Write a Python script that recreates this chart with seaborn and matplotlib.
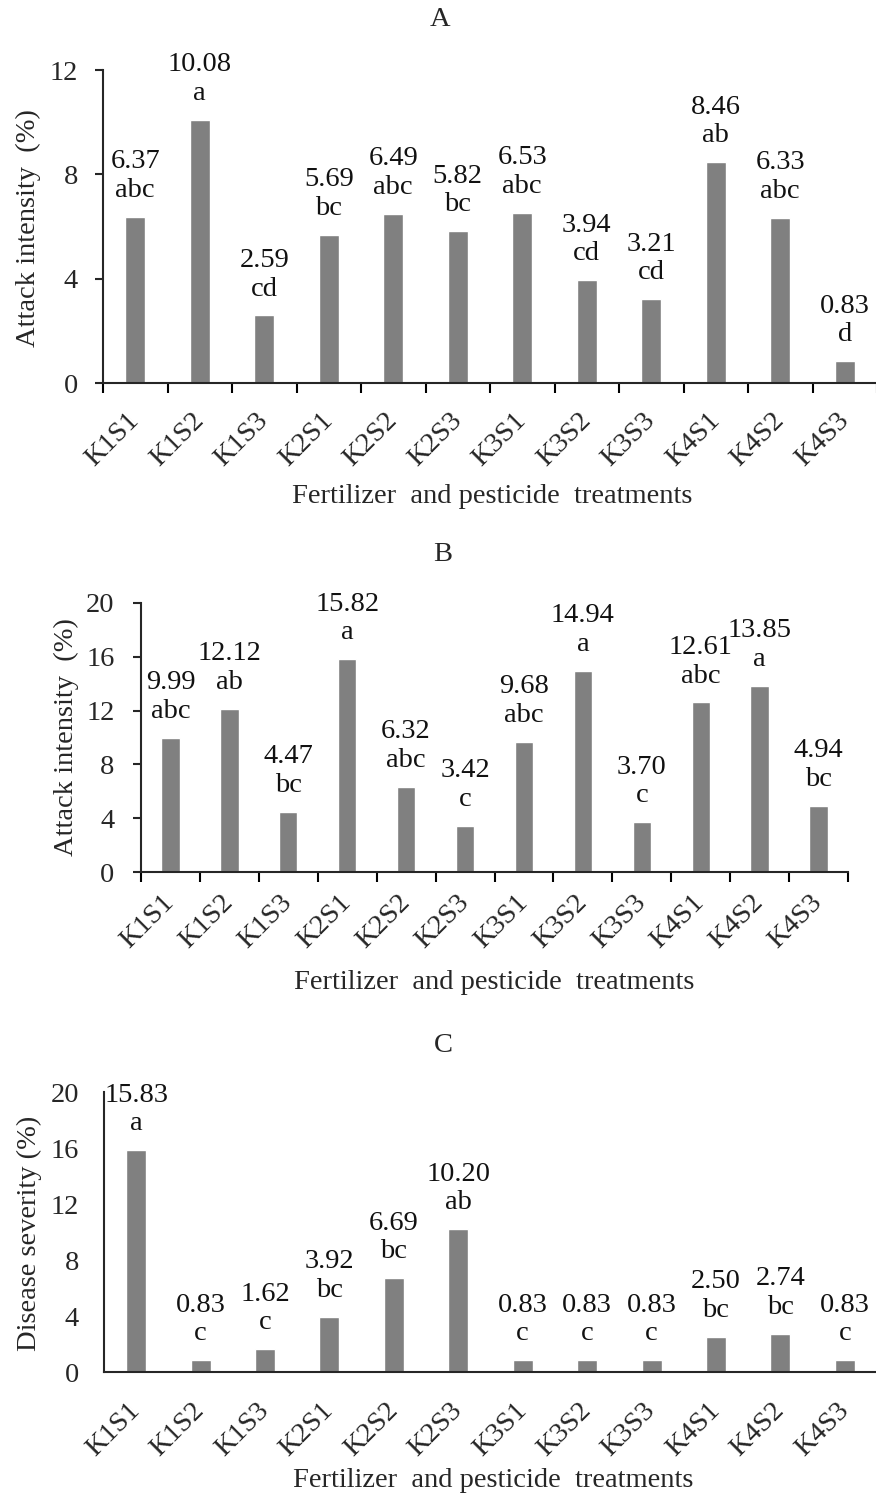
import numpy as np
import pandas as pd
import matplotlib
matplotlib.use("Agg")
import matplotlib.pyplot as plt
import seaborn as sns

# Treatments (same for all three panels)
treatments = ["K1S1", "K1S2", "K1S3", "K2S1", "K2S2", "K2S3",
              "K3S1", "K3S2", "K3S3", "K4S1", "K4S2", "K4S3"]

# Panel A - attack intensity
attack_a = [6.37, 10.08, 2.59, 5.69, 6.49, 5.82, 6.53, 3.94, 3.21, 8.46, 6.33, 0.83]
letters_a = ["abc", "a", "cd", "bc", "abc", "bc", "abc", "cd", "cd", "ab", "abc", "d"]

# Panel B - attack intensity
attack_b = [9.99, 12.12, 4.47, 15.82, 6.32, 3.42, 9.68, 14.94, 3.70, 12.61, 13.85, 4.94]
letters_b = ["abc", "ab", "bc", "a", "abc", "c", "abc", "a", "c", "abc", "a", "bc"]

# Panel C - disease severity
severity_c = [15.83, 0.83, 1.62, 3.92, 6.69, 10.20, 0.83, 0.83, 0.83, 2.50, 2.74, 0.83]
letters_c = ["a", "c", "c", "bc", "bc", "ab", "c", "c", "c", "bc", "bc", "c"]

sns.set_style("ticks")
plt.rcParams['font.family'] = ['Liberation Serif', 'DejaVu Serif']
plt.rcParams['axes.linewidth'] = 1.5

FS = 20.5
W, H = 876, 1494
fig = plt.figure(figsize=(W / 100, H / 100), dpi=100)


def px_axes(left, top, right, bottom):
    return fig.add_axes([left / W, 1 - bottom / H, (right - left) / W, (bottom - top) / H])


def panel(ax, values, letters, ymax, ylabel, ticks=True, ylab_xy=(-0.1, 0.5),
          xlab_xy=(0.5, -0.37), xpad=24, ypad=13, title=None, title_xy=None):
    df = pd.DataFrame({"treatment": treatments, "value": values})
    sns.barplot(data=df, x="treatment", y="value", color="#808080",
                saturation=1, width=0.31, ax=ax)
    ax.set_xlim(-0.5, len(treatments) - 0.5)
    ax.set_ylim(0, ymax)
    ax.set_yticks(np.arange(0, ymax + 1, 4))
    sns.despine(ax=ax)
    labels = [f"{v:.2f}\n{l}" for v, l in zip(values, letters)]
    ax.bar_label(ax.containers[0], labels=labels, padding=10, fontsize=FS,
                 linespacing=1.2, color="#111111")
    ax.tick_params(axis="x", which="major", length=0, pad=xpad, labelsize=FS)
    plt.setp(ax.get_xticklabels(), rotation=45, ha="right", va="center",
             rotation_mode="anchor")
    if ticks:
        ax.set_xticks(np.arange(-0.5, len(treatments)), minor=True)
        ax.tick_params(axis="x", which="minor", length=7, width=1.5, color="black")
        ax.tick_params(axis="y", length=6, width=1.5, pad=ypad, labelsize=FS)
    else:
        ax.tick_params(axis="y", length=0, pad=ypad, labelsize=FS)
    ax.set_xlabel("Fertilizer  and pesticide  treatments", fontsize=FS)
    ax.set_ylabel(ylabel, fontsize=FS)
    ax.xaxis.set_label_coords(*xlab_xy)
    ax.xaxis.label.set_va("center")
    ax.yaxis.set_label_coords(*ylab_xy)
    ax.yaxis.label.set_va("center")
    if title:
        fig.text(title_xy[0] / W, 1 - title_xy[1] / H, title, fontsize=FS,
                 ha="center", va="center")


ax_a = px_axes(103, 70, 877, 383)
panel(ax_a, attack_a, letters_a, 12, "Attack intensity  (%)",
      ylab_xy=(-0.097, 0.495), xlab_xy=(0.503, -0.364), xpad=24, ypad=12,
      title="A", title_xy=(440, 20))

ax_b = px_axes(141, 603, 848, 872)
panel(ax_b, attack_b, letters_b, 20, "Attack intensity  (%)",
      ylab_xy=(-0.106, 0.502), xlab_xy=(0.499, -0.409), xpad=19, ypad=13,
      title="B", title_xy=(443, 555))

ax_c = px_axes(104, 1092, 877, 1372)
panel(ax_c, severity_c, letters_c, 20, "Disease severity (%)", ticks=False,
      ylab_xy=(-0.097, 0.496), xlab_xy=(0.503, -0.389), xpad=25, ypad=18,
      title="C", title_xy=(443, 1045))

fig.savefig("out.png", dpi=100)
